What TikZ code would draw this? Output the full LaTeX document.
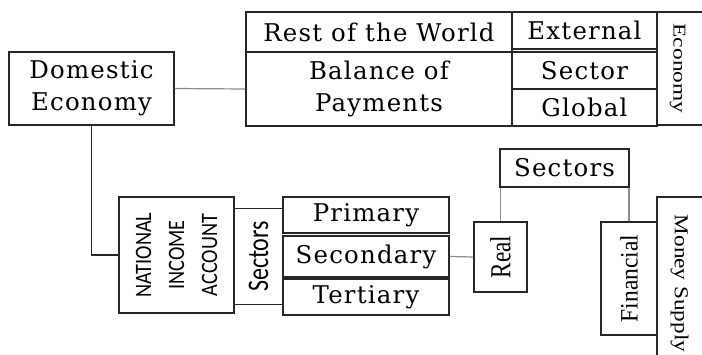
\documentclass[tikz,border=0pt]{standalone}
\usepackage{fontspec}
\setmainfont[LetterSpace=5]{DejaVu Serif}
\setsansfont{Carlito}
\newfontfamily\upfont{Liberation Serif}
\usetikzlibrary{fit}

\begin{document}
\begin{tikzpicture}[x=1pt, y=-1pt,
        every node/.style={font=\fontsize{24.4}{32}\selectfont},
        box/.style={draw=black!85, line width=1.2pt, inner sep=0pt},
        link/.style={draw=black!45, line width=1.2pt}]
        \useasboundingbox (0,0) rectangle (702,354);

        \node[box, fit={(9,52) (174,125)},    label={[align=center]center:Domestic\\Economy}] (dom) {};

        \node[box, fit={(246,12) (512,52)},   label=center:Rest of the World] (row) {};
        \node[box, fit={(246,52) (512,126)},  label={[align=center]center:Balance of\\Payments}] (bop) {};
        \node[box, fit={(512,12) (657,49)},   label=center:External] (ext) {};
        \node[box, fit={(512,52) (657,89)},   label=center:Sector] (sec) {};
        \node[box, fit={(512,89) (657,126)},  label=center:Global] (glob) {};
        \node[box, fit={(657,12) (712,125)},  label={[xshift=-7pt, rotate=-90, xscale=1.3, font=\upfont\fontsize{18}{20}\selectfont]center:Economy}] (eco) {};

        \node[box, fit={(119,197) (234,313)}, label={[rotate=90, xscale=.86, align=center, font=\sffamily\fontsize{23.5}{33}\selectfont]center:NATIONAL\\INCOME\\ACCOUNT}] (nia) {};
        \node[inner sep=0pt, fit={(234,209) (283,304)}, label={[rotate=90, xscale=.8, font=\sffamily\fontsize{30}{32}\selectfont]center:Sectors}] (sects) {};

        \node[box, fit={(283,197) (449,233)}, label=center:Primary] (pri) {};
        \node[box, fit={(283,236) (449,277)}, label=center:Secondary] (secd) {};
        \node[box, fit={(283,279) (449,315)}, label=center:Tertiary] (ter) {};

        \node[box, fit={(474,222) (527,292)}, label={[rotate=90, xscale=.8, font=\upfont\fontsize{29}{30}\selectfont]center:Real}] (real) {};
        \node[box, fit={(500,149) (629,187)}, label=center:Sectors] (sec2) {};
        \node[box, fit={(601,222) (657,335)}, label={[rotate=90, xscale=.94, font=\upfont\fontsize{25}{30}\selectfont]center:Financial}] (fin) {};
        \node[box, fit={(657,197) (712,370)}, label={[xshift=-5pt, rotate=-90, xscale=1.18, font=\upfont\fontsize{19.7}{22}\selectfont]center:Money Supply}] (money) {};

        \draw [link] (dom.east) -- (bop.west);
        \draw [box] (dom.south) |- (nia.west);
        \draw [box] (sects.north west) -- (sects.north east);
        \draw [box] (sects.south west) -- (sects.south east);
        \draw [link] (secd.east) -- (real.west);
        \draw [link] (real.north) -- (real.north |- sec2.south);
        \draw [link] (fin.north) -- (fin.north |- sec2.south);
\end{tikzpicture}
\end{document}
